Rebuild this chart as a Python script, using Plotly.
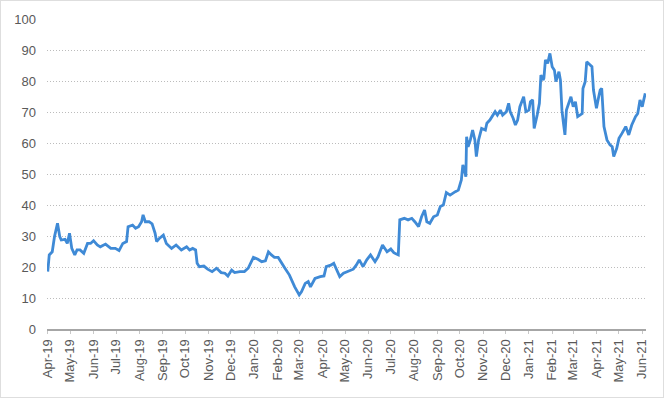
import pandas as pd
import plotly.graph_objects as go

# Days since 2019-04-01 for each sampled observation, and the index value at that day
day_offsets = [0, 2, 6, 9, 13, 16, 18, 23, 26, 29, 32, 36, 39, 43, 48, 53, 57, 61, 66, 70,
               77, 84, 90, 95, 100, 105, 107, 113, 117, 121, 125, 127, 130, 135, 139, 143, 145, 149,
               154, 158, 165, 171, 178, 185, 189, 193, 197, 199, 202, 208, 213, 219, 225, 231, 236,
               240, 245, 249, 256, 262, 267, 271, 274, 280, 285, 290, 294, 298, 302, 307, 311, 316,
               322, 329, 335, 338, 343, 347, 350, 356, 363, 368, 371, 377, 381, 385, 389, 394, 400,
               407, 411, 415, 420, 425, 430, 436, 440, 446, 452, 457, 461, 467, 469, 475, 480, 485,
               489, 494, 498, 502, 505, 509, 514, 519, 523, 527, 531, 536, 543, 547, 551, 553, 555,
               557, 558, 560, 563, 566, 569, 571, 574, 578, 583, 585, 589, 593, 596, 599, 603, 606,
               611, 614, 616, 620, 623, 626, 629, 634, 637, 641, 643, 646, 648, 652, 655, 657, 660,
               661, 663, 666, 669, 672, 675, 677, 681, 683, 685, 687, 689, 691, 694, 697, 700, 703,
               706, 710, 712, 713, 716, 718, 722, 725, 727, 731, 734, 736, 738, 741, 745, 749, 752,
               754, 758, 761, 765, 770, 774, 778, 783, 786, 789, 792, 794, 796]
values = [18.5, 23.9, 24.9, 29.8, 34.1, 29.8, 28.7, 28.9, 27.6, 30.9, 26.0, 23.9, 25.5, 25.5,
          24.4, 27.6, 27.6, 28.5, 27.1, 26.5, 27.4, 26.0, 26.0, 25.3, 27.6, 28.2, 33.0, 33.5,
          32.5, 33.0, 34.6, 36.8, 34.6, 34.6, 33.9, 30.9, 28.2, 29.3,
          30.3, 27.6, 26.0, 27.1, 25.5, 26.5, 25.5, 26.0, 25.5, 21.2, 20.1, 20.3, 19.3, 18.5,
          19.6, 18.2, 18.0, 17.1, 19.0, 18.2, 18.5, 18.5, 19.6, 21.7, 23.1, 22.5, 21.7, 22.0,
          24.9, 23.9, 23.1, 23.1, 21.4, 19.6,
          17.4, 13.6, 11.0, 12.0, 14.7, 15.3, 13.6, 16.3, 16.9, 17.1, 20.1, 20.6, 21.2, 19.0,
          16.9, 18.0, 18.5, 19.3, 20.6, 22.3, 20.1, 22.3, 23.9, 21.7, 23.3, 27.1, 24.9, 25.8,
          24.6, 23.9, 35.2, 35.7, 35.2, 35.7, 34.6, 33.0,
          36.2, 38.4, 34.6, 34.1, 36.2, 36.8, 39.5, 40.0, 44.0, 43.2, 44.3, 44.8, 48.1, 52.9,
          51.3, 49.1, 62.0, 58.8,
          61.0, 64.2, 61.0, 55.6, 61.0, 64.7, 64.2, 66.4, 67.4, 69.0, 70.1, 69.0, 70.6, 69.0,
          70.1, 72.8, 70.1, 68.0, 65.8, 67.4, 71.7, 74.9, 70.1, 70.6, 73.3, 73.9, 64.7, 69.0,
          72.8, 81.9, 80.3, 80.9, 86.8, 85.7, 88.9, 84.6, 83.5, 79.8, 83.0, 80.3, 70.6, 66.4,
          62.6, 70.6, 72.8, 74.9, 71.7, 73.3, 68.5, 69.0, 69.5, 77.6, 79.8, 86.2, 85.2, 84.6,
          77.1, 71.2, 74.9, 77.1, 77.6, 65.3, 61.0, 59.4, 58.8, 55.6, 58.3, 61.5, 63.1, 65.3,
          62.6, 65.8, 68.5, 69.5, 73.9, 71.7, 73.9, 76.0]

start_date = "2019-04-01"
tick_months = pd.date_range("2019-04-01", "2021-06-01", freq="MS")
tick_labels = [d.strftime("%b-%y") for d in tick_months]
y_ticks = [0, 10, 20, 30, 40, 50, 60, 70, 80, 90, 100]

dates = pd.Timestamp(start_date) + pd.to_timedelta(day_offsets, unit="D")

L, R, T, B = 47, 18, 19, 69
W, H = 664 - L - R, 398 - T - B

fig = go.Figure(go.Scatter(
    x=dates, y=values, mode="lines",
    line=dict(color="#3F8AD6", width=2.8, shape="linear"),
    hoverinfo="skip",
))

fig.update_layout(
    width=664, height=398,
    margin=dict(l=L, r=R, t=T, b=B),
    paper_bgcolor="white", plot_bgcolor="white",
    showlegend=False,
    font=dict(family="Liberation Sans", size=13, color="#595959"),
    xaxis=dict(
        type="date",
        range=["2019-03-31", "2021-06-06"],
        tickvals=list(tick_months), ticktext=tick_labels,
        tickangle=-90,
        showgrid=False, zeroline=False,
        showline=True, linecolor="#A6A6A6", linewidth=2,
        ticks="outside", ticklen=3, tickcolor="#C8C8C8",
        tickfont=dict(size=13, color="#595959"),
        automargin=False,
    ),
    yaxis=dict(
        range=[0, 100],
        tickvals=y_ticks,
        showgrid=True, gridcolor="#BCBCBC", griddash="1px,2px", gridwidth=1,
        zeroline=False, showline=False, ticks="",
        ticklabelstandoff=10,
        tickfont=dict(size=13, color="#595959"),
        automargin=False,
    ),
    shapes=[dict(
        type="rect", xref="paper", yref="paper",
        x0=(0.5 - L) / W, x1=(663.5 - L) / W,
        y0=(-B + 0.5) / H, y1=1 + (T - 0.5) / H,
        line=dict(color="#BDBDBD", width=1, dash="1px,1px"),
        fillcolor="rgba(0,0,0,0)", layer="below",
    )],
)

fig.write_html(
    "out.html",
    config={"displayModeBar": False},
    post_script="document.body.style.margin='0';document.body.style.overflow='hidden';",
)
